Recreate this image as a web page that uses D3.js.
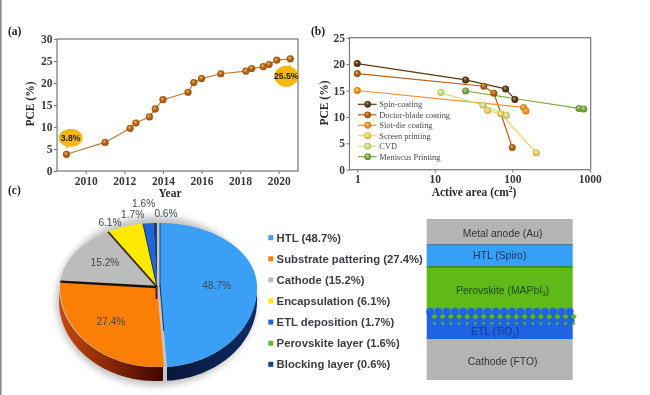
<!DOCTYPE html>
<html><head><meta charset="utf-8">
<script src="https://cdn.jsdelivr.net/npm/d3@7"></script>
<style>html,body{margin:0;padding:0;background:#fff;overflow:hidden}svg{display:block;filter:blur(.5px)}</style>
</head><body><svg id="c" width="650" height="395"></svg>
<script>
// ---- Data ----
const pceYears = [2009,2011,2012.3,2012.6,2013.3,2013.6,2014,2015.3,2015.6,2016,2017,2018.3,2018.6,2019.2,2019.5,2019.9,2020.6];
const pceValues = [3.8,6.5,9.7,10.9,12.3,14.1,16.2,17.9,20.1,21,22.1,22.7,23.3,23.7,24.2,25.2,25.5];
const yearTicks = [2010,2012,2014,2016,2018,2020];
const pceTicksA = [0,5,10,15,20,25,30];

const methodNames = ["Spin-coating","Doctor-blade coating","Slot-die coating","Screen printing","CVD","Meniscus Printing"];
const methodColors = ["#5b3a12","#b5610f","#f0921f","#f6cf58","#d6e07c","#7cab3c"];
const spinArea = [1,25,82,108],        spinPce = [20.1,17,15.3,13.3];
const doctorArea = [1,43,58,100],      doctorPce = [18.2,15.8,14.5,4.2];
const slotArea = [1,140,150],          slotPce = [15,11.8,11.1];
const screenArea = [48,71,204],        screenPce = [11.2,10.6,3.2];
const cvdArea = [12,42,84],            cvdPce = [14.6,12.2,10.3];
const meniscusArea = [25,725,835],     meniscusPce = [14.9,11.6,11.5];
const areaTicks = [1,10,100,1000];
const pceTicksB = [0,5,10,15,20,25];

const costNames = ["HTL","Substrate pattering","Cathode","Encapsulation","ETL deposition","Perovskite layer","Blocking layer"];
const costValues = [48.7,27.4,15.2,6.1,1.7,1.6,0.6];
const costColors = ["#3ba0f5","#fb7f05","#bcbcbc","#fde800","#1f66d8","#62b82c","#14427e"];

const layerNames = ["Metal anode (Au)","HTL (Spiro)","Perovskite (MAPbI","ETL (TiO","Cathode (FTO)"];
const layerSubs = ["","","3","2",""];
const layerColors = ["#b4b4b4","#35a0f6","#5fb916","#1f63e2","#b4b4b4"];

// ---- Setup ----
const svg = d3.select("#c");
const defs = svg.append("defs");
const serif = "'Liberation Serif','Times New Roman',serif";
const sans = "'Liberation Sans',Arial,sans-serif";
const axisInk = "#777", textInk = "#3a3a3a";
svg.append("rect").attr("x",0).attr("y",0).attr("width",1.6).attr("height",395).attr("fill","#8a8a8a");

function ballGradient(id,color){
  const g = defs.append("radialGradient").attr("id",id).attr("cx","50%").attr("cy","50%").attr("r","55%").attr("fx","38%").attr("fy","32%");
  g.append("stop").attr("offset","0%").attr("stop-color",d3.interpolateRgb(color,"#fff")(0.55));
  g.append("stop").attr("offset","50%").attr("stop-color",color);
  g.append("stop").attr("offset","100%").attr("stop-color",d3.color(color).darker(0.7));
}
function frameAxes(g,x,y,xTicks,yTicks,xFmt){
  const [x0,x1]=x.range(),[y0,y1]=y.range();
  g.append("rect").attr("x",x0).attr("y",y1).attr("width",x1-x0).attr("height",y0-y1)
    .attr("fill","none").attr("stroke",axisInk).attr("stroke-width",1.2);
  const ax=g.append("g").attr("transform",`translate(0,${y0})`).call(d3.axisBottom(x).tickValues(xTicks).tickFormat(xFmt).tickSize(3).tickPadding(2.5));
  const ay=g.append("g").attr("transform",`translate(${x0},0)`).call(d3.axisLeft(y).tickValues(yTicks).tickFormat(d3.format("d")).tickSize(3).tickPadding(1.5));
  [ax,ay].forEach(a=>{
    a.select(".domain").remove();
    a.selectAll("line").attr("stroke",axisInk).attr("stroke-width",1);
    a.selectAll("text").attr("font-family",serif).attr("font-weight","bold").attr("font-size",11.5).attr("fill",textInk);
  });
}
const panelLabel=(t,x,y)=>svg.append("text").text(t).attr("x",x).attr("y",y).attr("font-family",serif).attr("font-weight","bold").attr("font-size",11.5).attr("fill","#222");
const axisTitle=(t,x,y,rot)=>svg.append("text").text(t).attr("text-anchor","middle")
  .attr("transform",`translate(${x},${y})`+(rot?" rotate(-90)":"")).attr("font-family",serif).attr("font-weight","bold").attr("font-size",11.5).attr("fill","#2a2a2a");

panelLabel("(a)",8,35); panelLabel("(b)",311,35); panelLabel("(c)",8,194);

// ---- Panel (a) ----
ballGradient("ballA","#b9650f");
const xA=d3.scaleLinear().domain([2008.51,21+2000]).range([57,298]);
const yA=d3.scaleLinear().domain([0,30]).range([171,39]);
const gA=svg.append("g");
frameAxes(gA,xA,yA,yearTicks,pceTicksA,d3.format("d"));
const seriesA=pceYears.map((y,i)=>[y,pceValues[i]]);
gA.append("path").datum(seriesA).attr("fill","none").attr("stroke","#bd7a33").attr("stroke-width",1.2)
  .attr("d",d3.line().x(d=>xA(d[0])).y(d=>yA(d[1])));
gA.selectAll("circle.m").data(seriesA).join("circle").attr("class","m")
  .attr("cx",d=>xA(d[0])).attr("cy",d=>yA(d[1])).attr("r",3.6).attr("fill","url(#ballA)");
axisTitle("PCE (%)",34,104,true);
axisTitle("Year",170,197,false);

function callout(cx,cy,rx,ry,tailX,tailY,label){
  gA.append("path").attr("fill","#f6b70f").attr("d",`M${cx-5},${cy}L${tailX},${tailY}L${cx+5},${cy}Z`);
  gA.append("ellipse").attr("cx",cx).attr("cy",cy).attr("rx",rx).attr("ry",ry).attr("fill","#f6b70f");
  gA.append("text").text(label).attr("x",cx).attr("y",cy+3).attr("text-anchor","middle").attr("font-family",sans)
    .attr("font-size",8.6).attr("font-weight","bold").attr("fill","#1c1c1c");
}
callout(xA(pceYears[0])+4.2,yA(pceValues[0])-16.5,12,9,xA(pceYears[0]),yA(pceValues[0])-5,"3.8%");
callout(xA(2020.6)-4,yA(25.5)+17.5,12,10.5,xA(2020.6),yA(25.5)+5,"25.5%");

// ---- Panel (b) ----
const xB=d3.scaleLog().domain([10**-0.1,10**3.012]).range([349.5,590.7]);
const yB=d3.scaleLinear().domain([0,25]).range([169.7,37.7]);
const gB=svg.append("g");
frameAxes(gB,xB,yB,areaTicks,pceTicksB,d3.format("d"));
const areas=[spinArea,doctorArea,slotArea,screenArea,cvdArea,meniscusArea];
const pces=[spinPce,doctorPce,slotPce,screenPce,cvdPce,meniscusPce];
methodNames.forEach((n,i)=>{
  ballGradient("ballB"+i,methodColors[i]);
  const pts=areas[i].map((a,j)=>[a,pces[i][j]]);
  gB.append("path").datum(pts).attr("fill","none").attr("stroke",methodColors[i]).attr("stroke-width",1.2)
    .attr("d",d3.line().x(d=>xB(d[0])).y(d=>yB(d[1])));
});
methodNames.forEach((n,i)=>{
  const pts=areas[i].map((a,j)=>[a,pces[i][j]]);
  gB.selectAll(null).data(pts).join("circle").attr("cx",d=>xB(d[0])).attr("cy",d=>yB(d[1])).attr("r",3.5).attr("fill",`url(#ballB${i})`);
});
const legB=gB.selectAll("g.l").data(methodNames).join("g").attr("transform",(d,i)=>`translate(358,${104.3+i*10.48})`);
legB.append("line").attr("x1",0).attr("x2",18.5).attr("stroke",(d,i)=>methodColors[i]).attr("stroke-width",1.2);
legB.append("circle").attr("cx",9.7).attr("r",3.4).attr("fill",(d,i)=>`url(#ballB${i})`);
legB.append("text").text(d=>d).attr("x",21.3).attr("y",2.8).attr("font-family",serif).attr("font-size",8.4).attr("fill","#4a4a4a");
axisTitle("PCE (%)",328,103,true);
const abT=axisTitle("Active area (cm",474,196,false);
abT.append("tspan").text("2").attr("dy",-4).attr("font-size",7.5);
abT.append("tspan").text(")").attr("dy",4);

// ---- Panel (c) pie: the reference draws no visible wedge for the perovskite layer ----
const pieRows=costNames.map((n,i)=>({n,v:costValues[i],c:costColors[i]})).filter(d=>d.n!=="Perovskite layer");
const arcs=d3.pie().sort(null).value(d=>d.v)(pieRows);
const cx=157,cy=287,rx=97,ryTop=64,ryBot=80,depth=14;
const edge=t=>[cx+rx*Math.sin(t),cy-Math.cos(t)*(Math.cos(t)>0?ryTop:ryBot)];
const arcPts=(a,b)=>d3.range(0,61).map(k=>edge(a+(b-a)*k/60));
const lineGen=d3.line();
const gC=svg.append("g");
const blur=defs.append("filter").attr("id","soft").attr("x","-20%").attr("y","-20%").attr("width","140%").attr("height","140%");
blur.append("feGaussianBlur").attr("stdDeviation",3);
gC.append("ellipse").attr("cx",cx-1).attr("cy",cy+14).attr("rx",rx+3).attr("ry",ryBot+5).attr("fill","#c4c4c4").attr("filter","url(#soft)");

function wallGradient(id,x1,x2,c1,c2){
  const g=defs.append("linearGradient").attr("id",id).attr("gradientUnits","userSpaceOnUse").attr("x1",x1).attr("x2",x2).attr("y1",0).attr("y2",0);
  g.append("stop").attr("offset","0%").attr("stop-color",c1);
  g.append("stop").attr("offset","100%").attr("stop-color",c2);
}
wallGradient("wallBlue",168,256,"#08183c","#0d2c66");
wallGradient("wallOrange",60,165,"#c9480a","#3f0404");
function wall(a,b,fill,dx){
  const top=arcPts(a,b), bot=top.map(p=>[p[0],p[1]+depth]).reverse();
  gC.append("path").attr("d",lineGen(top.concat(bot))+"Z").attr("fill",fill).attr("transform",`translate(${dx},0)`);
}
const bluePush=3;
wall(Math.PI/2,arcs[0].endAngle,"url(#wallBlue)",bluePush);
wall(arcs[1].startAngle,3*Math.PI/2,"url(#wallOrange)",-1);

arcs.forEach((a,i)=>{
  const dx=i===0?bluePush:0, pts=[[cx,cy]].concat(arcPts(a.startAngle,a.endAngle));
  gC.append("path").attr("d",lineGen(pts)+"Z").attr("fill",a.data.c).attr("transform",`translate(${dx},0)`);
});
// dark cut faces between wedges
const cut=(t,w,col)=>gC.append("line").attr("x1",cx).attr("y1",cy).attr("x2",edge(t)[0]).attr("y2",edge(t)[1]).attr("stroke",col).attr("stroke-width",w);
cut(arcs[2].startAngle,2.4,"#17140f");
cut(arcs[3].startAngle,1.8,"#3b2800");
cut(arcs[4].startAngle,0.9,"#0c2a5c");
gC.append("line").attr("x1",cx-.5).attr("y1",cy).attr("x2",cx-.5).attr("y2",cy+12).attr("stroke","#3a1a05").attr("stroke-width",1.8);
const bEnd=edge(arcs[0].endAngle);
gC.append("line").attr("x1",cx+bluePush).attr("y1",cy-2).attr("x2",cx+bluePush+(bEnd[0]-cx)*.55).attr("y2",cy+(bEnd[1]-cy)*.55)
  .attr("stroke","#123465").attr("stroke-width",1);
gC.append("line").attr("x1",cx+bluePush).attr("y1",cy).attr("x2",edge(0)[0]+bluePush).attr("y2",edge(0)[1]).attr("stroke","#123465").attr("stroke-width",.9);

const pieLabelPos=[[216.7,285],[111,321],[105,262],[110,222],[132.7,214],[143.7,203],[166,213]];
gC.selectAll("text.p").data(costValues).join("text").attr("class","p").text(d=>d+"%")
  .attr("x",(d,i)=>pieLabelPos[i][0]).attr("y",(d,i)=>pieLabelPos[i][1]+3.6).attr("text-anchor","middle")
  .attr("font-family",sans).attr("font-size",10.2).attr("fill","#404a55");

// legend
const legC=svg.selectAll("g.lc").data(costNames).join("g").attr("transform",(d,i)=>`translate(268.3,${237.7+i*21.1})`);
legC.append("rect").attr("y",-2.5).attr("width",5).attr("height",5).attr("fill",(d,i)=>costColors[i]);
legC.append("text").text((d,i)=>`${d} (${costValues[i]}%)`).attr("x",8.3).attr("y",3.8)
  .attr("font-family",sans).attr("font-weight","bold").attr("font-size",11.3).attr("fill","#3c3c44");

// ---- Device stack ----
const stackEdges=[219,245,267,313,339,380];
const xS=d3.scaleLinear().domain([0,1]).range([426.7,572.7]);
const gS=svg.append("g");
gS.selectAll("rect").data(layerNames).join("rect").attr("x",xS(0)).attr("width",xS(1)-xS(0))
  .attr("y",(d,i)=>stackEdges[i]).attr("height",(d,i)=>stackEdges[i+1]-stackEdges[i]).attr("fill",(d,i)=>layerColors[i]);
gS.append("rect").attr("x",xS(0)).attr("width",xS(1)-xS(0)).attr("y",244).attr("height",1.4).attr("fill","#4a7fa8");
gS.append("rect").attr("x",xS(0)).attr("width",xS(1)-xS(0)).attr("y",266).attr("height",1.6).attr("fill","#3f8a20");
const beads=d3.range(18);
gS.selectAll("circle.a").data(beads).join("circle").attr("class","a").attr("cx",d=>xS(0)+3.5+d*8.2).attr("cy",311.8).attr("r",4).attr("fill",layerColors[3]);
gS.selectAll("circle.b").data(beads).join("circle").attr("class","b").attr("cx",d=>xS(0)+4.8+d*8.2).attr("cy",320.5).attr("r",3.8).attr("fill",layerColors[3]);
const gem=(y,s)=>gS.selectAll(null).data(beads).join("path").attr("transform",d=>`translate(${xS(0)+7.7+d*8.2},${y})`)
  .attr("d",`M0,${-s}L${s},0L0,${s}L${-s},0Z`).attr("fill",layerColors[2]);
gem(316.5,3); gem(323.4,1.7);
const layerTextY=[233,255,290,331.5,361.5];
const lt=gS.selectAll("text").data(layerNames).join("text").attr("x",(d,i)=>i===3?xS(.47):i===1?xS(.5):xS(.52)).attr("y",(d,i)=>layerTextY[i]+3.6)
  .attr("text-anchor","middle").attr("font-family",sans).attr("font-size",10.4).attr("fill",(d,i)=>i===3?"#123a8a":i===1?"#12305f":i===2?"#1d4a10":"#333");
lt.append("tspan").text(d=>d);
lt.filter((d,i)=>layerSubs[i]).each(function(d){
  const i=layerNames.indexOf(d), t=d3.select(this);
  t.append("tspan").text(layerSubs[i]).attr("dy",2.5).attr("font-size",6.5);
  t.append("tspan").text(")").attr("dy",-2.5);
});
</script></body></html>
